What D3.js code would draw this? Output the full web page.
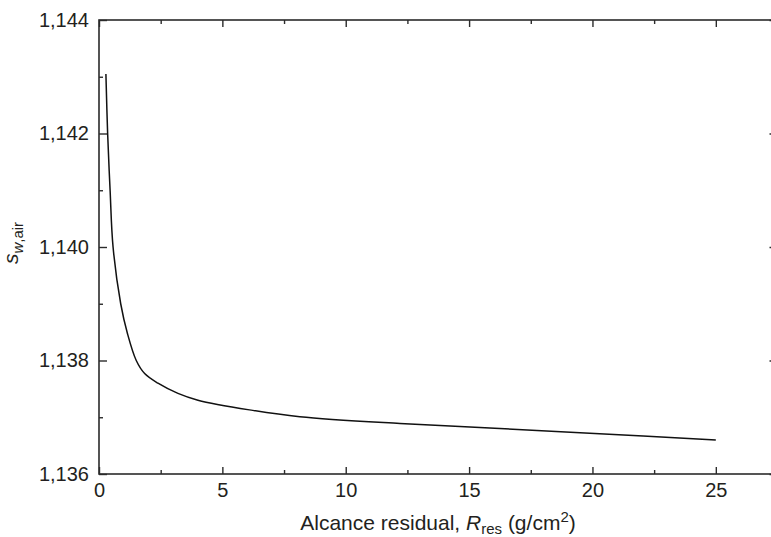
<!DOCTYPE html>
<html>
<head>
<meta charset="utf-8">
<script src="https://cdn.jsdelivr.net/npm/d3@7"></script>
<style>
  html, body { margin: 0; padding: 0; background: #fff; }
  svg { display: block; }
  text { font-family: "Liberation Sans", Arial, Helvetica, sans-serif; fill: #231f20; }
</style>
</head>
<body>
<svg id="chart" width="771" height="537"></svg>
<script>
// ---- data ----
const rres = [0.28, 0.35, 0.45, 0.57, 0.88, 1.15, 1.51, 1.85, 2.39, 3.20, 4.01, 6.1, 8.14, 12.2, 15.84, 19.89, 25.0];
const swair = [1.14305, 1.1420, 1.1410, 1.1400, 1.1390, 1.13848, 1.1380, 1.13777, 1.13760, 1.13742, 1.13730, 1.13713, 1.13701, 1.13689, 1.13681, 1.13672, 1.13660];

const xMajorTicks = [0, 5, 10, 15, 20, 25];
const xMinorTicks = [2.5, 7.5, 12.5, 17.5, 22.5, 27.5];
const yMajorTicks = [1.136, 1.138, 1.140, 1.142, 1.144];
const yMinorTicks = [1.137, 1.139, 1.141, 1.143];
const yTickLabels = ["1,136", "1,138", "1,140", "1,142", "1,144"];
const xTickLabels = ["0", "5", "10", "15", "20", "25"];

// ---- layout ----
const padL = 99, padT = 20, padR = 777.5, padB = 474;
const ink = "#2b2b2b";

const svg = d3.select("#chart");
const x = d3.scaleLinear().domain([0, 27.5]).range([padL, padR]);
const y = d3.scaleLinear().domain([1.136, 1.144]).range([padB, padT]);

function styleAxis(g) {
  g.select(".domain").remove();
  g.selectAll(".tick line").attr("stroke", ink).attr("stroke-width", 1.4);
  g.selectAll(".tick text").attr("font-size", 20).attr("fill", "#231f20")
    .attr("font-family", "'Liberation Sans', Arial, Helvetica, sans-serif");
}

// bottom axis
svg.append("g").attr("transform", `translate(0,${padB})`)
  .call(d3.axisBottom(x).tickValues(xMajorTicks).tickSize(-7).tickPadding(9)
    .tickFormat((d, i) => xTickLabels[i]))
  .call(styleAxis);
svg.append("g").attr("transform", `translate(0,${padB})`)
  .call(d3.axisBottom(x).tickValues(xMinorTicks).tickSize(-4).tickFormat(""))
  .call(styleAxis);
// top axis
svg.append("g").attr("transform", `translate(0,${padT})`)
  .call(d3.axisTop(x).tickValues(xMajorTicks).tickSize(-7).tickFormat(""))
  .call(styleAxis);
svg.append("g").attr("transform", `translate(0,${padT})`)
  .call(d3.axisTop(x).tickValues(xMinorTicks).tickSize(-4).tickFormat(""))
  .call(styleAxis);
// left axis
svg.append("g").attr("transform", `translate(${padL},0)`)
  .call(d3.axisLeft(y).tickValues(yMajorTicks).tickSize(-8).tickPadding(10)
    .tickFormat((d, i) => yTickLabels[i]))
  .call(styleAxis);
svg.append("g").attr("transform", `translate(${padL},0)`)
  .call(d3.axisLeft(y).tickValues(yMinorTicks).tickSize(-4).tickFormat(""))
  .call(styleAxis);
// right axis
svg.append("g").attr("transform", `translate(${padR},0)`)
  .call(d3.axisRight(y).tickValues(yMajorTicks).tickSize(-8).tickFormat(""))
  .call(styleAxis);
svg.append("g").attr("transform", `translate(${padR},0)`)
  .call(d3.axisRight(y).tickValues(yMinorTicks).tickSize(-4).tickFormat(""))
  .call(styleAxis);

// frame
svg.append("rect")
  .attr("x", padL).attr("y", padT)
  .attr("width", padR - padL).attr("height", padB - padT)
  .attr("fill", "none").attr("stroke", ink).attr("stroke-width", 1.6);

// curve
const pts = rres.map((r, i) => [r, swair[i]]);
const line = d3.line().x(d => x(d[0])).y(d => y(d[1])).curve(d3.curveCatmullRom.alpha(0.5));
svg.append("path").datum(pts)
  .attr("d", line)
  .attr("fill", "none").attr("stroke", "#111").attr("stroke-width", 1.5);

// x axis title
const xt = svg.append("text")
  .attr("x", 438).attr("y", 530)
  .attr("text-anchor", "middle").attr("font-size", 21);
xt.append("tspan").text("Alcance residual, ");
xt.append("tspan").attr("font-style", "italic").text("R");
xt.append("tspan").attr("font-size", 15).attr("dy", 4).text("res");
xt.append("tspan").attr("dy", -4).text(" (g/cm");
xt.append("tspan").attr("font-size", 15).attr("dy", -8).text("2");
xt.append("tspan").attr("dy", 8).text(")");

// y axis title
const yt = svg.append("text")
  .attr("transform", `translate(18,${(padT + padB) / 2 - 4}) rotate(-90)`)
  .attr("text-anchor", "middle").attr("font-size", 21);
yt.append("tspan").attr("font-style", "italic").text("s");
yt.append("tspan").attr("font-size", 15).attr("dy", 5).attr("font-style", "italic").text("w");
yt.append("tspan").attr("font-size", 15).text(",air");
</script>
</body>
</html>
